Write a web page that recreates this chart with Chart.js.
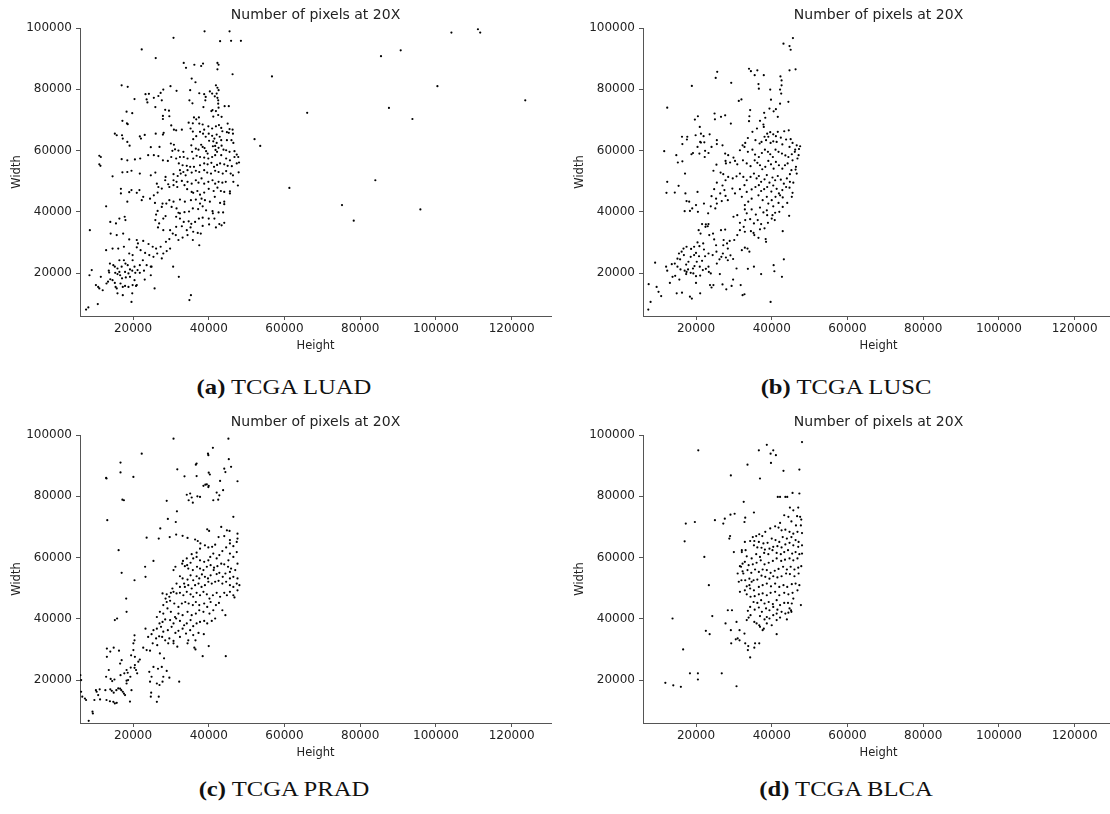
<!DOCTYPE html>
<html>
<head>
<meta charset="utf-8">
<title>Number of pixels at 20X</title>
<script src="https://cdn.jsdelivr.net/npm/chart.js@4.4.0/dist/chart.umd.min.js"></script>
<style>
    body { margin: 0; width: 1110px; height: 814px; overflow: hidden; background: #fff; position: relative; }
    canvas { position: absolute; }
    .cap {
        position: absolute; width: 300px; margin-left: -150px; text-align: center;
        font-family: "Liberation Serif", "Times New Roman", serif; font-size: 22px; line-height: 24px;
        color: #111; transform: scaleX(1.12);
    }
</style>
</head>
<body>
<canvas id="luad" width="560" height="360" style="left:0;top:0"></canvas>
<canvas id="lusc" width="560" height="360" style="left:563px;top:0"></canvas>
<canvas id="prad" width="560" height="360" style="left:0;top:407px"></canvas>
<canvas id="blca" width="560" height="360" style="left:563px;top:407px"></canvas>

<div class="cap" style="left:284px;top:375px"><b>(a)</b> TCGA LUAD</div>
<div class="cap" style="left:846px;top:375px"><b>(b)</b> TCGA LUSC</div>
<div class="cap" style="left:284px;top:777px"><b>(c)</b> TCGA PRAD</div>
<div class="cap" style="left:846px;top:777px"><b>(d)</b> TCGA BLCA</div>

<script>
// slide sizes at 20X, [height, width] in pixels
const luadPoints = [
    [30700,96800],[38900,98900],[45500,98900],[43000,95700],[45900,95800],[48500,95800],[22300,93000],[26000,90200],[33400,88600],[34000,87000],
    [36200,88000],[38000,87600],[38500,88400],[42300,88600],[42600,88000],[42300,86500],[46300,84900],[35500,83500],[36500,82300],[17000,81300],
    [18600,80800],[41900,81300],[42300,80500],[42600,79700],[42100,78600],[29900,81000],[31500,79500],[23300,78400],[24200,78500],[20400,76800],
    [23600,76700],[25500,77200],[26700,77800],[27300,78800],[28000,79900],[35100,79700],[37500,78700],[38800,78400],[39200,77500],[40300,79300],
    [40900,78600],[41600,77700],[42300,77200],[27600,76400],[23800,75700],[34900,76400],[35700,75400],[42500,76400],[42500,75300],[42600,74000],
    [44200,74500],[45300,74500],[25900,74200],[28500,73300],[29500,73000],[18300,72700],[19800,72200],[39100,76400],[38600,74200],[40700,72900],
    [41900,72900],[29600,71200],[27900,71300],[27900,70300],[37400,70800],[36100,70800],[36700,70200],[34700,69100],[35800,68900],[37500,68800],
    [38400,68500],[41000,73200],[42500,71600],[41200,71100],[43400,71000],[45000,68800],[17200,69700],[18400,68900],[18600,68600],[35200,67200],
    [32900,66800],[39900,67900],[41900,67900],[38800,66800],[40900,67200],[42700,68300],[43300,67400],[45500,67000],[46300,66800],[46400,65500],
    [43600,66300],[44800,66000],[45300,65800],[30100,68200],[30800,66800],[31400,66600],[26000,65500],[28100,65800],[27900,65200],[35800,66200],
    [37700,66100],[38500,65500],[39200,64500],[36700,64700],[35900,63700],[40000,65500],[40900,64800],[41500,63900],[42100,65200],[42900,64500],
    [43300,63400],[15200,65500],[15700,65000],[17100,65000],[17300,63900],[18500,62800],[19100,61600],[21800,64600],[22100,63900],[23100,65100],
    [40100,63200],[41200,63000],[42100,62500],[44800,63400],[46000,63400],[46500,62500],[30000,62300],[30800,61900],[31100,60400],[27000,61200],
    [24700,61100],[11100,58300],[11500,57900],[30400,59900],[32000,60000],[33300,59600],[35400,61700],[35600,59600],[36600,60600],[37300,60300],
    [38000,61900],[38400,61200],[38900,60800],[39300,59800],[39700,59000],[41100,61400],[41700,61500],[41800,60200],[42200,59600],[42600,60900],
    [43400,61600],[43900,60300],[44600,60100],[45500,59600],[46800,59800],[47400,58700],[47800,57900],[46800,57900],[45600,56800],[44600,57400],
    [43300,58500],[41700,58500],[40900,57900],[39900,57400],[38800,57700],[37700,57900],[36800,58300],[35900,57400],[34400,57400],[33400,57900],
    [32400,57900],[31400,57400],[30100,57900],[29200,56600],[27900,56800],[26700,58200],[25500,58500],[24000,58500],[21900,57400],[20500,57100],
    [18500,56800],[17000,57200],[32100,55800],[33100,55200],[34200,55000],[35100,54700],[36100,54700],[37700,55200],[38800,55800],[39700,55500],
    [40700,56000],[41400,54700],[42200,55300],[43000,55800],[44100,55500],[45000,55000],[46100,54900],[47400,55800],[48000,56100],[32400,53600],
    [33300,53000],[34400,53600],[35500,52800],[36600,53400],[37500,53000],[38800,53600],[39600,52800],[40600,52500],[41700,53400],[42600,53000],
    [43700,52500],[44600,53300],[45800,52500],[47900,52900],[46400,51900],[32600,52500],[33900,51900],[31800,51700],[30700,52300],[28600,51400],
    [25900,52800],[24700,51900],[21800,52500],[19600,53400],[18500,53000],[17200,52900],[14600,51600],[11100,55500],[11400,55000],[28500,50300],
    [30700,50300],[31500,49800],[32900,50100],[34400,49800],[35500,49200],[36600,50300],[37300,49500],[38100,50900],[38800,49200],[39900,49800],
    [41000,50300],[41700,49200],[42600,49800],[43600,49500],[44500,49800],[46500,49800],[47700,48600],[29300,49000],[29600,48100],[30700,48700],
    [31700,48100],[33600,48700],[34300,47400],[35500,46500],[35900,46200],[37000,46800],[37700,45600],[38800,46300],[40000,47500],[41300,46800],
    [42300,47900],[43200,46800],[44100,46500],[45600,46700],[26300,49200],[26700,48100],[27600,47600],[26500,46300],[25500,45400],[24500,44300],
    [21700,47100],[21000,46200],[19600,47100],[19000,46400],[16800,47500],[16800,46000],[18500,43300],[29600,43800],[30700,43300],[32400,44000],
    [33700,43300],[35300,43800],[36600,44000],[38100,44300],[39000,43800],[40300,43300],[43000,42900],[44100,43300],[41600,44900],[45600,46000],
    [25800,42900],[27800,42700],[12900,41800],[14000,36700],[16400,37800],[15500,36200],[17800,38400],[18000,37300],[22700,44900],[22300,43800],
    [28800,42700],[30200,41600],[31500,41100],[32000,39700],[32400,39500],[33600,39900],[34800,40100],[35800,41100],[37200,40900],[38400,41800],
    [39300,40500],[41000,40200],[41100,39500],[42600,39800],[43800,39800],[44100,42500],[37700,42700],[27600,41600],[26500,40300],[26100,39100],
    [25900,37300],[26900,36200],[28000,37800],[28600,38600],[31400,38400],[32400,37800],[33400,36700],[34700,36900],[35400,36100],[36400,36700],
    [37400,37800],[38400,38100],[40000,37800],[41500,37800],[42800,36000],[44100,36400],[26600,34900],[28000,34000],[31400,35100],[32900,35300],
    [34200,34000],[35200,34900],[35900,33500],[37100,33100],[37900,32900],[38400,35400],[40100,35900],[41900,34900],[43400,35600],[8600,34000],
    [14100,32900],[15700,32400],[17400,32900],[19000,31000],[21000,30800],[21300,29700],[22700,30500],[24100,29500],[25200,28600],[26100,28000],
    [27300,28600],[28700,30200],[29600,31100],[29800,28000],[28900,27200],[31300,32400],[32000,30800],[33100,31600],[34400,32400],[35800,30800],
    [37500,29100],[29800,34000],[30500,32900],[12900,27500],[14600,28000],[16100,28000],[17600,28600],[19000,26400],[19900,25900],[21000,28400],
    [22000,27500],[23200,26600],[24300,25900],[25400,25300],[26400,26400],[27600,24800],[28000,26400],[14800,22600],[13900,23100],[15200,22100],
    [15900,21500],[16400,20400],[17000,22100],[18000,23100],[18600,22600],[19200,21200],[20400,22100],[21200,21000],[21800,22600],[22600,24200],
    [23600,22600],[24900,22100],[16400,24200],[17600,24200],[19900,24200],[9100,21000],[8500,19300],[11500,18800],[13600,20800],[13700,20200],
    [15300,20100],[15900,19700],[16600,19300],[17900,20400],[18800,19900],[19800,20800],[20600,20100],[21800,20100],[22900,20800],[24700,22100],
    [24700,19300],[17100,18300],[18100,18600],[19200,18800],[20400,17700],[10200,16100],[10800,15500],[11100,15000],[12000,14400],[13000,16600],
    [13400,17200],[14000,18000],[14600,17700],[15200,16800],[15400,15500],[15700,15000],[16700,16600],[17300,15500],[17900,15800],[18800,15500],
    [19900,16100],[20800,15800],[19800,13400],[21000,16100],[15900,13400],[17300,12800],[19600,10600],[23100,17900],[25700,15000],[30600,22100],
    [32100,18800],[35300,12800],[34900,11200],[10700,9900],[7600,8100],[8200,8800],
    // large slides
    [104100,98500],[111100,99600],[111700,98500],[85500,90800],[90700,92700],[100400,81000],[123600,76400],[66000,72300],[87600,73900],[93800,70300],
    [61300,47800],[75200,42200],[78300,37100],[84000,50300],[95900,40800],[56700,84200],[52100,63700],[53600,61500]
];

const luscPoints = [
    [43100,94900],[44700,94100],[45000,92900],[45600,96700],[44700,86200],[46300,86500],[25600,85700],[25200,83700],[18900,81100],[29300,82100],
    [34000,86700],[34500,85900],[35500,84600],[36200,86200],[37900,84600],[42300,84200],[42600,82900],[42600,81300],[42500,78600],[42200,79900],
    [39600,79900],[44400,75900],[36600,80200],[32000,76700],[31300,76200],[12400,74000],[36500,81700],[39800,76600],[42200,75300],[41100,73500],
    [40500,72800],[41600,71000],[39400,73700],[38000,72300],[38300,70700],[37800,68500],[36900,69700],[34000,69600],[34100,71200],[34300,73200],
    [27700,71500],[26600,71000],[24900,72100],[25000,70200],[29200,68800],[20500,71200],[19700,70100],[21000,67700],[19900,65000],[21300,65500],
    [22000,64700],[22200,62700],[23600,65300],[25500,63400],[17700,64500],[17600,63600],[16300,64500],[16400,62100],[18800,58800],[19200,59200],
    [20400,61200],[20900,59000],[21100,62800],[21300,62600],[36100,67200],[34900,66100],[33700,64100],[33000,62500],[32300,61700],[35700,63400],
    [36800,62300],[37900,67700],[38800,65500],[39100,64500],[38100,64500],[39600,66000],[40400,65300],[41100,64700],[41600,66100],[42400,64200],
    [43300,66300],[44500,66600],[43800,63600],[45000,63700],[45500,62500],[46600,61700],[47500,61400],[47200,60500],[46200,60300],[44700,61200],
    [42800,62000],[41300,62800],[40400,63000],[39700,62500],[38500,63400],[37300,62800],[27000,61700],[25500,62100],[24100,61200],[22300,57900],
    [22400,59900],[23300,59200],[27700,59000],[28500,58500],[29900,57700],[31600,60100],[32800,61200],[33700,59600],[34900,60300],[35600,58700],
    [36600,57900],[37400,59200],[38200,60300],[39000,59600],[39600,58800],[40300,57900],[41000,60300],[41800,59600],[42700,59000],[43600,58400],
    [44400,57900],[45300,58800],[46100,59600],[46800,57400],[47100,58500],[45500,56800],[25400,55400],[24600,53400],[26500,52800],[27200,52300],
    [27800,56600],[27900,55800],[29000,56100],[30300,56600],[30900,55500],[32400,56800],[33400,55800],[34400,54900],[35500,56800],[36200,56000],
    [36900,55200],[37500,53900],[38300,54700],[39100,56600],[39800,55500],[40500,54100],[41100,56300],[41900,55200],[42800,54100],[43500,55200],
    [44200,55800],[45200,53600],[46300,53800],[46600,52500],[46400,54700],[44800,52300],[15200,56100],[14800,58500],[11600,59800],[12400,49800],
    [12200,46200],[14400,46300],[15400,48500],[17100,52500],[16400,56500],[27800,50300],[28500,51400],[29700,50900],[30700,51600],[31600,52500],
    [32500,51400],[33400,50300],[34400,51400],[35300,52500],[36000,50900],[36600,51700],[37200,49800],[38100,50600],[38700,52000],[39400,49500],
    [40200,51200],[40900,50300],[41600,51700],[42400,50500],[43200,49200],[44000,50900],[44800,49800],[45700,49500],[27000,48600],[25500,49500],
    [26400,46000],[27500,47100],[27800,45200],[28400,43800],[26800,43500],[29600,47600],[30300,46000],[31600,47400],[32800,48700],[33400,46500],
    [34700,47300],[35700,48100],[36600,48700],[37200,46800],[38000,47400],[38800,48100],[39900,46600],[40400,48600],[41300,47500],[41900,46000],
    [42800,47100],[43800,48100],[44700,47900],[45500,46200],[45300,44900],[42900,44700],[42200,45400],[41000,44900],[40000,43800],[38700,44900],
    [37600,43800],[36500,45400],[34700,44300],[33800,43300],[32900,42200],[32100,44900],[24800,47400],[24100,45100],[25300,44300],[25100,41100],
    [23900,41800],[25500,42700],[17200,46000],[17000,40200],[17500,43500],[18200,43300],[18400,40300],[19000,41100],[20400,46500],[20500,40000],
    [22100,42700],[23200,39500],[20000,42200],[32900,40800],[34700,40800],[33400,39500],[35800,39100],[36900,41400],[37800,39800],[38700,40500],
    [39100,42700],[40400,41800],[40900,39700],[41800,42900],[42000,40000],[42900,41600],[44100,42900],[44600,38700],[38800,38900],[40200,38900],
    [40800,37300],[30900,38900],[29900,38400],[31600,36400],[33000,37300],[34300,37600],[35300,36200],[36300,37300],[37200,36000],[38100,34600],
    [39000,36400],[40000,37800],[36900,34300],[35200,33100],[35400,32400],[34500,33700],[38400,31100],[38500,30200],[36500,31500],[32900,33500],
    [32600,35100],[31600,34000],[30900,32400],[30100,30800],[32900,28300],[33600,28000],[34100,27000],[32100,27500],[42900,33700],[21600,36000],
    [22600,35900],[23300,36000],[22500,35100],[23100,35300],[20700,34000],[21200,32900],[20400,30000],[20900,28800],[21900,29700],[22100,27700],
    [24500,32900],[23500,32400],[24800,31000],[25300,29100],[26600,34000],[27700,34200],[27300,30800],[27200,29100],[28200,29700],[28900,30500],
    [28400,28000],[29100,25800],[27900,25100],[29800,24600],[28400,24200],[27100,26400],[26700,25300],[26200,24500],[25400,27000],[24400,25900],
    [25500,23100],[23300,26400],[22400,25500],[21600,24000],[21000,22100],[21800,21000],[22600,21400],[23300,22100],[20200,23700],[19600,22300],
    [19200,21500],[18600,25300],[19500,25900],[20800,25500],[17500,28600],[18700,27900],[19500,28600],[20000,26600],[16700,28000],[16200,27000],
    [15500,26400],[15100,24700],[15800,24500],[16800,25900],[18000,23700],[17400,22800],[17900,21200],[18600,20100],[19300,19900],[20000,19000],
    [17000,20800],[15900,21200],[15100,22100],[14400,23100],[13600,22900],[12100,22100],[12400,20800],[13800,18800],[14500,19100],[15600,17900],
    [17400,19700],[17500,20400],[20000,16800],[21100,19200],[23400,20400],[23900,19900],[24600,16100],[24100,15300],[26300,19700],[27000,16300],
    [28000,14700],[29400,15800],[29800,17900],[30700,21500],[31800,16100],[32800,13100],[32300,12800],[33700,21400],[35300,22100],[37200,19700],
    [40500,22600],[40700,20600],[42700,18800],[43200,24500],[39700,10600],[7500,16400],[9200,23400],[9600,15500],[10100,13900],[10800,12500],
    [8000,10600],[7400,8100],[13100,16800],[14900,13400],[16300,13600],[18400,12300],[18900,11700],[21100,13400],[23700,16100]
];

const pradPoints = [
    [30700,98800],[45200,98800],[41100,95800],[22300,93900],[31700,88800],[36800,90700],[36600,90300],[39800,93900],[39900,93400],[45300,92100],
    [44100,89000],[44400,87900],[45900,89600],[16700,91000],[16700,87800],[12900,86000],[13000,85800],[20100,86300],[33600,86500],[36800,86600],
    [40000,87700],[40300,87100],[39100,83800],[38600,83400],[40000,83400],[43000,85000],[47600,84900],[34200,80500],[35100,80900],[35500,79600],
    [34700,78700],[35800,77900],[37000,80000],[37700,79800],[39500,83900],[39900,83000],[41200,78700],[42500,78900],[42800,80300],[43800,82000],
    [42100,81200],[17200,78900],[17600,78700],[28900,78500],[31600,75100],[29200,72600],[27200,69500],[23600,66500],[26800,66200],[31400,67500],
    [33100,67100],[29700,66700],[34400,66400],[31300,71600],[13200,72200],[16200,62400],[17000,55000],[18200,46600],[18300,42300],[15200,39600],
    [15800,40100],[23200,57000],[23300,53700],[25400,58900],[23300,36800],[20400,52600],[36400,65900],[37100,65400],[39600,69200],[40100,68700],
    [43300,70000],[44800,68900],[45500,68700],[46500,73300],[47600,67800],[47600,66200],[45600,65700],[44100,67000],[42600,66700],[41700,64200],
    [40900,63500],[39900,63300],[39000,64000],[37800,64600],[37700,62900],[36800,61600],[35500,61100],[34200,59700],[33200,58900],[33000,58000],
    [34300,57500],[35200,58300],[35900,59700],[36800,60200],[37700,59100],[38800,58600],[39900,59100],[40400,60200],[41200,61300],[42100,59700],
    [42800,60800],[43600,62100],[44600,63300],[45600,64600],[46500,63700],[47400,65100],[47400,61800],[46500,60200],[45600,61300],[45200,59100],
    [44100,57800],[43300,58000],[42300,57200],[41400,56700],[40500,57500],[39500,57000],[38600,55900],[37700,56400],[36900,57000],[35800,55900],
    [34600,56400],[33700,57200],[45100,57000],[45900,56400],[47000,55900],[47600,58000],[46500,53700],[47600,53200],[47400,51500],[45600,53200],
    [45600,55300],[44400,54800],[43700,53700],[42800,55000],[42100,54600],[41300,55900],[40500,54200],[39800,53200],[39000,53700],[38200,54500],
    [37500,53200],[36800,53900],[35900,52600],[35200,54200],[34400,52800],[33500,51500],[33100,53200],[32400,53900],[31200,57000],[30700,55900],
    [31500,51500],[32400,50400],[33700,50400],[34600,51000],[35500,49900],[36400,51000],[37300,51500],[38100,50400],[39000,51000],[39900,52100],
    [40800,51500],[41700,52100],[42600,52400],[43600,51500],[44600,52100],[45600,51000],[46500,50400],[47600,49300],[48100,51000],[46800,47000],
    [30400,49900],[30000,48500],[28900,48000],[27800,48300],[28600,46600],[29600,47200],[30700,48800],[31500,48300],[32400,48500],[33300,47700],
    [34200,48800],[35200,48000],[35900,47200],[36800,48500],[37700,47700],[38600,48800],[39500,48000],[40200,46600],[41100,47700],[42100,48500],
    [43000,47200],[44100,48500],[44800,47700],[45600,48800],[46500,47700],[28000,44500],[28900,45500],[29800,45900],[30900,45000],[32000,43900],
    [32900,45000],[33800,45500],[34700,45000],[35800,44500],[36600,45500],[37500,44500],[38800,45000],[39600,43900],[40500,45500],[41900,44500],
    [42700,45200],[43600,42800],[44400,41200],[41200,42800],[40200,41700],[38600,42300],[37500,42800],[36600,41700],[35500,41200],[34400,42300],
    [33100,41200],[32000,41700],[31100,40600],[30000,42300],[29100,43400],[28000,41700],[27100,42300],[26300,40600],[27000,38500],[27800,39000],
    [28500,39800],[29800,39600],[30700,38500],[31400,40100],[32400,39300],[33500,37900],[34200,38500],[35200,39600],[35900,37600],[36800,38500],
    [37700,39000],[38800,39300],[39600,38500],[40800,39300],[41700,40100],[25400,36300],[26300,36800],[27400,37400],[28000,35800],[29200,36300],
    [30200,37400],[31200,35400],[32000,36100],[33100,36800],[34000,35200],[35100,36300],[35900,34700],[37300,35400],[38700,35000],[36500,33000],
    [32400,34100],[34400,32000],[36200,30600],[36500,30000],[38400,27800],[40000,31100],[44500,27800],[30700,32000],[31700,30900],[34600,33000],
    [24000,34100],[24900,35000],[26100,33600],[26900,34300],[27700,34100],[28500,33000],[29300,32000],[29600,33600],[30700,32800],[22700,30600],
    [23600,29800],[24500,29600],[25200,32000],[26400,31400],[27100,28700],[28200,27100],[27600,24300],[26600,23700],[28900,23000],[26300,18900],
    [27000,18400],[27800,19500],[29600,20800],[32200,19500],[28000,21100],[25400,24300],[24300,22700],[24500,19500],[24800,15900],[24700,14600],
    [26300,12900],[26800,14600],[24900,21100],[20400,34600],[20400,33000],[20100,32000],[20100,29800],[19500,28100],[21400,26000],[20400,24000],
    [21800,26700],[20500,27600],[19400,24100],[18300,23300],[18600,22400],[17700,22200],[16700,21600],[18300,19800],[18300,18900],[16900,16700],
    [17600,15600],[19300,21100],[18700,20000],[19600,16700],[20800,23300],[20500,24900],[21100,22200],[17000,26500],[16600,25400],[16300,29600],
    [14900,30600],[14000,29300],[13100,30300],[13100,27600],[13600,23300],[12900,21100],[14100,20400],[14500,19700],[15100,20200],[14000,17000],
    [14400,16500],[14900,15900],[15600,16700],[16100,17300],[16600,17200],[17300,16200],[17900,15100],[19200,13000],[14800,12900],[15700,12600],
    [15200,12400],[13900,13100],[13000,13500],[12700,16700],[11200,17000],[10200,16700],[10400,16200],[10800,15100],[11300,13700],[9800,13500],
    [9300,9700],[9400,9100],[8300,6700],[7300,14000],[6300,16200],[6600,14600],[7600,13500],[6100,21600],[6300,20000]
];

const blcaPoints = [
    [48000,97700],[38700,96800],[36600,95000],[40400,95000],[39700,93900],[39800,90900],[20600,95000],[41100,93400],[33600,90300],[29200,86800],
    [43100,88300],[47300,88700],[36900,85800],[45500,81100],[47300,80900],[44100,79800],[43600,79800],[41600,79800],[42200,79800],[32600,78200],
    [17300,71100],[17000,65300],[19700,71600],[22200,60200],[23400,51000],[24300,40900],[22600,36100],[23600,35000],[29100,74000],[30200,74300],
    [27600,72700],[25000,72200],[27200,71100],[32800,71600],[33000,73000],[35300,74700],[29000,67000],[28800,66200],[30000,61800],[32100,61800],
    [33100,62400],[32300,55500],[31900,57000],[31000,54800],[31300,52100],[31600,48800],[32900,49300],[34100,51000],[34700,52100],[47000,76300],
    [45700,75400],[44800,76300],[46700,73500],[47500,73300],[47800,72400],[43300,73800],[44400,73300],[45200,71800],[46400,70500],[47700,70500],
    [48000,68000],[46800,68400],[45700,67800],[44700,68400],[43600,69100],[42600,68900],[41800,69800],[42200,71300],[40900,70200],[39600,69500],
    [38300,68400],[37500,67000],[36700,67600],[35900,67000],[35000,66700],[34300,65400],[35400,65400],[36600,65100],[37800,64600],[38900,64800],
    [40000,66200],[41000,65700],[42000,65100],[42900,66700],[44000,66200],[45200,66700],[46300,65700],[47100,65100],[48000,64000],[47000,63500],
    [45700,64000],[44700,64800],[43600,64300],[42600,63300],[41500,63700],[40400,63500],[39400,62900],[38200,62600],[37300,63200],[36200,63300],
    [35300,64000],[32900,65100],[32100,62400],[33400,60400],[34700,59700],[35900,61100],[36900,60200],[38000,61500],[39100,61100],[40200,62400],
    [41300,61500],[42400,61100],[43300,61800],[44300,62400],[45400,61300],[46300,61800],[47300,61100],[48000,61300],[46800,59700],[45700,59100],
    [44700,59700],[43500,59300],[42500,58900],[41300,59700],[40300,58900],[39200,58300],[38100,57800],[37100,59100],[36000,58300],[35000,57800],
    [33900,57500],[32900,58600],[32300,58000],[31600,57200],[32500,54800],[33600,55900],[34600,55000],[35600,56100],[36600,55300],[37600,56100],
    [38700,55900],[39700,55000],[40800,55700],[41800,56300],[43000,57000],[44000,56100],[45000,57000],[46000,56100],[47000,56700],[47800,57200],
    [47100,54800],[46000,53900],[44800,54600],[43800,54800],[42600,53900],[41500,53500],[40400,53900],[39400,53100],[38300,53700],[37300,54100],
    [36200,52800],[35200,52600],[34100,53100],[33000,52600],[32000,52600],[33400,50600],[34300,49900],[35300,49300],[36600,50400],[37600,51000],
    [38700,51500],[39800,50600],[40900,51500],[42000,50400],[43100,51000],[44100,50400],[45300,51300],[46300,51500],[47300,51000],[46800,49300],
    [45500,48500],[44400,48000],[43300,48500],[42000,47700],[40900,48800],[39700,48500],[38700,47700],[37600,48300],[36600,48000],[35500,47400],
    [34400,47200],[33400,48000],[35200,45500],[36200,45200],[37200,46100],[38100,45000],[39200,45500],[40300,44800],[41300,46100],[42200,44500],
    [43300,45200],[44300,45200],[45300,45000],[45700,46600],[34300,43900],[35500,43000],[36600,43700],[37400,42300],[38500,43400],[39400,42800],
    [40400,43900],[41500,43000],[42600,42300],[44400,42000],[45100,42800],[47700,44500],[33700,42600],[33400,39600],[33900,40400],[34400,41200],
    [36900,40900],[38100,39800],[40400,41200],[41300,39600],[42200,40400],[44000,39800],[45200,42300],[44700,43400],[43600,41700],[35400,39000],
    [36000,38500],[36900,37400],[37600,36300],[37900,36800],[38700,40600],[40000,37900],[41300,35000],[39400,40100],[30700,39000],[28400,42800],
    [29500,42800],[27800,38500],[29200,36300],[31000,33600],[31500,36300],[32800,35200],[33000,32000],[33800,31100],[33700,29800],[34300,27400],
    [35600,32000],[36700,32000],[35400,30600],[36700,37900],[38700,38500],[41300,41700],[13800,40100],[11900,19100],[14000,18300],[16000,17800],
    [18400,22200],[20500,22200],[20500,20200],[26800,22200],[29300,32000],[30500,33300],[31500,33000],[30700,18000],[16600,30000]
];

const xTicks = [20000, 40000, 60000, 80000, 100000, 120000];
const yTicks = [20000, 40000, 60000, 80000, 100000];
const xRange = [6000, 130400];
const yRange = [6000, 100000];

const axisColor = '#555';
const textColor = '#222';
const sans = 'DejaVu Sans';

function drawPanel(id, points) {
    const ctx = document.getElementById(id).getContext('2d');
    return new Chart(ctx, {
        type: 'scatter',
        data: {
            datasets: [{
                data: points.map(p => ({x: p[0], y: p[1]})),
                pointRadius: 1.1,
                pointBorderWidth: 0,
                pointBackgroundColor: '#000'
            }]
        },
        options: {
            responsive: false,
            animation: false,
            devicePixelRatio: 1,
            layout: {padding: {top: 0, right: 9, bottom: 0, left: 0}},
            plugins: {
                legend: {display: false},
                tooltip: {enabled: false},
                title: {
                    display: true,
                    text: 'Number of pixels at 20X',
                    fullSize: false,
                    color: textColor,
                    font: {family: sans, size: 14, weight: 'normal'},
                    padding: {top: 6.6, bottom: 4.6}
                }
            },
            scales: {
                x: {
                    type: 'linear',
                    min: xRange[0],
                    max: xRange[1],
                    afterBuildTicks: axis => { axis.ticks = xTicks.map(v => ({value: v})); },
                    afterFit: scale => { scale.height = 44; },
                    border: {color: axisColor, width: 1},
                    grid: {drawOnChartArea: false, drawTicks: true, tickLength: 4, tickColor: axisColor},
                    ticks: {padding: 2, color: textColor, font: {family: sans, size: 12}, callback: v => String(v)},
                    title: {display: true, text: 'Height', color: textColor, font: {family: sans, size: 11.5}, padding: {top: 0, bottom: 7}}
                },
                y: {
                    type: 'linear',
                    min: yRange[0],
                    max: yRange[1],
                    afterBuildTicks: axis => { axis.ticks = yTicks.map(v => ({value: v})); },
                    afterFit: scale => { scale.width = 80; },
                    border: {color: axisColor, width: 1},
                    grid: {drawOnChartArea: false, drawTicks: true, tickLength: 4, tickColor: axisColor},
                    ticks: {padding: 4, color: textColor, font: {family: sans, size: 12}, callback: v => String(v)},
                    title: {display: true, text: 'Width', color: textColor, font: {family: sans, size: 11.5}, padding: {top: 10, bottom: 0}}
                }
            }
        }
    });
}

drawPanel('luad', luadPoints);
drawPanel('lusc', luscPoints);
drawPanel('prad', pradPoints);
drawPanel('blca', blcaPoints);
</script>
</body>
</html>
